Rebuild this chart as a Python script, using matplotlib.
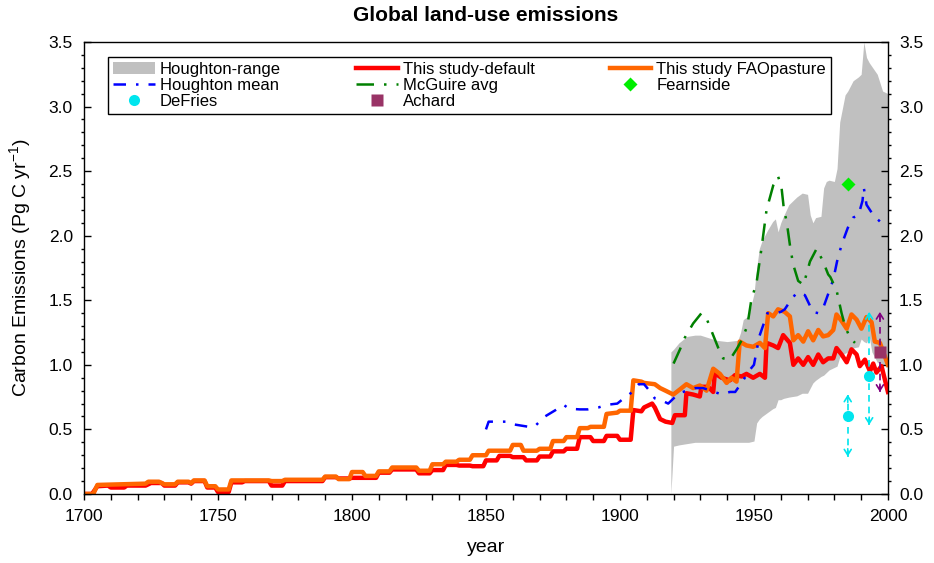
import matplotlib.pyplot as plt
from matplotlib.ticker import MultipleLocator, FormatStrFormatter

plt.rcParams['font.family'] = ['Liberation Sans', 'DejaVu Sans']
plt.rcParams['mathtext.default'] = 'regular'

# this study - default run (Pg C / yr)
default_years = [1700, 1703, 1705, 1709, 1710, 1715, 1716, 1723, 1725, 1729, 1730, 1734,
                 1735, 1739, 1740, 1741, 1745, 1746, 1749, 1750, 1754, 1755, 1759, 1760,
                 1769, 1770, 1774, 1775, 1789, 1790, 1794, 1795, 1799, 1800, 1809, 1810,
                 1814, 1815, 1824, 1825, 1829, 1830, 1834, 1835, 1839, 1840, 1844, 1845,
                 1849, 1850, 1854, 1855, 1859, 1860, 1864, 1865, 1869, 1870, 1874, 1875,
                 1879, 1880, 1884, 1885, 1889, 1890, 1894, 1895, 1899, 1900, 1904, 1905,
                 1908, 1909, 1912, 1913, 1915, 1917, 1919.5, 1920.5, 1924.2, 1924.8, 1927.3,
                 1929.8, 1930.4, 1932.9, 1934.8, 1935.4, 1937.9, 1941, 1942.9, 1945.4,
                 1947.2, 1949.7, 1952.2, 1954.1, 1954.7, 1957.2, 1959, 1960.9, 1963.4,
                 1964.7, 1966.5, 1968.4, 1970.2, 1972.1, 1974, 1975.8, 1977.7, 1979.6,
                 1980.8, 1982.7, 1984.6, 1986.4, 1988.3, 1989.5, 1991.4, 1993.3, 1994.5,
                 1995.7, 1997.6, 2000]
default_emis = [0.0, 0.0, 0.06, 0.065, 0.05, 0.05, 0.065, 0.065, 0.085, 0.085, 0.065, 0.065,
                0.09, 0.09, 0.08, 0.10, 0.10, 0.05, 0.05, 0.015, 0.015, 0.09, 0.09, 0.10,
                0.10, 0.065, 0.065, 0.10, 0.10, 0.13, 0.13, 0.12, 0.12, 0.125, 0.125, 0.165,
                0.165, 0.19, 0.19, 0.16, 0.16, 0.185, 0.185, 0.225, 0.225, 0.22, 0.22, 0.215,
                0.215, 0.26, 0.26, 0.295, 0.295, 0.285, 0.285, 0.26, 0.26, 0.29, 0.29, 0.33,
                0.33, 0.35, 0.35, 0.44, 0.44, 0.41, 0.41, 0.45, 0.45, 0.42, 0.42, 0.65,
                0.64, 0.67, 0.70, 0.67, 0.58, 0.56, 0.55, 0.61, 0.61, 0.78, 0.77,
                0.755, 0.83, 0.83, 0.79, 0.935, 0.90, 0.88, 0.92, 0.91,
                0.93, 0.90, 0.93, 0.90, 1.17, 1.15, 1.13, 1.23, 1.17,
                1.00, 1.05, 1.00, 1.06, 1.00, 1.08, 1.02, 1.05, 1.05,
                1.13, 1.08, 1.02, 1.12, 1.08, 0.99, 1.04, 0.95, 1.01,
                0.94, 0.99, 0.79]

# this study - FAO pasture run
fao_years = [1700, 1703.5, 1705, 1723, 1724, 1728, 1730, 1734, 1735, 1739, 1740, 1741,
             1745, 1746, 1749, 1750, 1754, 1755, 1769, 1770, 1774, 1775, 1789, 1790,
             1794, 1795, 1799, 1800, 1804, 1805, 1809, 1810, 1814, 1815, 1824, 1825,
             1829, 1830, 1834, 1835, 1839, 1840, 1844, 1845, 1850, 1851, 1859, 1860,
             1863, 1864, 1869, 1870, 1874, 1875, 1879, 1880, 1884, 1885, 1888, 1889,
             1894, 1895, 1899, 1900, 1904, 1905, 1908, 1909, 1913, 1915, 1917, 1919.9,
             1922.4, 1924.8, 1927.3, 1929.8, 1932.3, 1934.8, 1937.3, 1939.8, 1941.6,
             1943.5, 1944.7, 1947.2, 1949.7, 1952.2, 1954.1, 1955.3, 1957.2, 1959,
             1961.5, 1963.4, 1964.7, 1966.5, 1968.4, 1970.2, 1972.1, 1974, 1975.8,
             1977.7, 1979.6, 1980.8, 1982.7, 1984.6, 1986.4, 1988.3, 1990.1, 1992,
             1993.9, 1995.1, 1997, 2000]
fao_emis = [0.0, 0.0, 0.07, 0.08, 0.095, 0.095, 0.075, 0.075, 0.095, 0.095, 0.085, 0.105,
            0.105, 0.06, 0.06, 0.035, 0.035, 0.105, 0.105, 0.10, 0.10, 0.11, 0.11, 0.135,
            0.135, 0.115, 0.115, 0.17, 0.17, 0.14, 0.14, 0.175, 0.175, 0.205, 0.205, 0.18,
            0.18, 0.23, 0.23, 0.25, 0.25, 0.265, 0.265, 0.30, 0.30, 0.335, 0.335, 0.38,
            0.38, 0.335, 0.335, 0.35, 0.35, 0.41, 0.41, 0.44, 0.44, 0.51, 0.51, 0.52,
            0.52, 0.62, 0.63, 0.645, 0.645, 0.88, 0.87, 0.86, 0.85, 0.82, 0.80, 0.77,
            0.81, 0.85, 0.82, 0.84, 0.80, 0.97, 0.93, 0.86, 0.90,
            0.87, 1.18, 1.15, 1.14, 1.17, 1.13, 1.40, 1.375, 1.43,
            1.41, 1.375, 1.19, 1.23, 1.18, 1.26, 1.19, 1.27, 1.22,
            1.23, 1.27, 1.39, 1.34, 1.28, 1.39, 1.35, 1.28, 1.37,
            1.33, 1.18, 1.17, 1.00]

# Houghton range (min / max)
range_years = [1919, 1920, 1922, 1925, 1928, 1930, 1933, 1936, 1940, 1944, 1945, 1946,
               1948, 1950, 1951, 1952, 1953, 1955, 1957, 1958, 1959, 1960, 1961, 1963,
               1966, 1968, 1970, 1971, 1972, 1973, 1975, 1976, 1977, 1978, 1980, 1981,
               1982, 1984, 1985, 1987, 1989, 1990, 1991, 1992, 1993, 1994, 1996, 1998, 2000]
range_low = [0.0, 0.37, 0.38, 0.39, 0.40, 0.40, 0.40, 0.40, 0.40, 0.40, 0.40, 0.40,
             0.40, 0.41, 0.55, 0.58, 0.60, 0.63, 0.66, 0.67, 0.73, 0.73, 0.74, 0.75,
             0.76, 0.78, 0.78, 0.82, 0.86, 0.88, 0.91, 0.92, 0.94, 0.96, 0.98, 0.99,
             1.06, 1.09, 1.10, 1.13, 1.14, 1.20, 1.18, 1.17, 1.22, 1.10, 1.02, 1.00, 1.00]
range_high = [1.10, 1.12, 1.17, 1.22, 1.23, 1.23, 1.21, 1.19, 1.18, 1.19, 1.25, 1.35,
              1.38, 1.55, 1.75, 1.90, 1.96, 2.04, 2.11, 2.13, 2.03, 2.10, 2.15, 2.24,
              2.30, 2.33, 2.32, 2.16, 2.10, 2.14, 2.15, 2.37, 2.42, 2.43, 2.42, 2.52,
              2.88, 3.09, 3.12, 3.20, 3.23, 3.25, 3.50, 3.38, 3.34, 3.31, 3.25, 3.12, 3.10]

# Houghton mean
hmean_years = [1850, 1851, 1854, 1858, 1860, 1863, 1866, 1868, 1870, 1872, 1876, 1879,
               1881, 1885, 1888, 1892, 1895, 1899, 1902, 1904, 1907, 1909, 1911, 1913,
               1916, 1918, 1920, 1922, 1925, 1928, 1931, 1934, 1938, 1941, 1943, 1946,
               1948, 1950, 1952, 1955, 1958, 1960, 1961.5, 1963.4, 1966, 1969, 1972, 1974,
               1976, 1979.6, 1981, 1982.7, 1985, 1987, 1989, 1990.5, 1991, 1992, 1994.5,
               1997, 2000]
hmean_emis = [0.50, 0.56, 0.56, 0.56, 0.54, 0.53, 0.52, 0.52, 0.56, 0.60, 0.65, 0.69,
              0.66, 0.655, 0.655, 0.67, 0.69, 0.70, 0.75, 0.78, 0.85, 0.85, 0.80, 0.74,
              0.72, 0.70, 0.74, 0.78, 0.80, 0.82, 0.82, 0.80, 0.77, 0.79, 0.79, 0.88,
              0.95, 1.00, 1.22, 1.40, 1.40, 1.41, 1.43, 1.49, 1.56, 1.54, 1.41, 1.40,
              1.45, 1.66, 1.80, 1.93, 2.06, 2.14, 2.16, 2.27, 2.37, 2.24, 2.16,
              2.11, 2.07]

# McGuire average
mcg_years = [1920, 1922.4, 1924.2, 1927.3, 1930.4, 1932.3, 1934.2, 1936.7, 1938.5, 1941,
             1943.5, 1945.4, 1947.5, 1949, 1951, 1952.8, 1954.7, 1957.2, 1959, 1960.3,
             1961.2, 1962.2, 1963.4, 1964.6, 1966.5, 1968.5, 1970.9, 1973.4, 1975.8,
             1977.7, 1978.5, 1980.8, 1982.7, 1984, 1985.8, 1987.7]
mcg_emis = [1.01, 1.12, 1.21, 1.32, 1.40, 1.36, 1.26, 1.13, 1.05, 1.04,
            1.12, 1.19, 1.30, 1.50, 1.64, 1.90, 2.20, 2.39, 2.46, 2.37,
            2.20, 2.11, 1.93, 1.78, 1.65, 1.62, 1.80, 1.90, 1.80,
            1.70, 1.68, 1.58, 1.40, 1.30, 1.21, 1.17]

# single estimates with their ranges
fearnside_year = [1985]
fearnside_val = [2.4]
defries_year = [1985, 1993]
defries_val = [0.6, 0.91]
defries_lo = [0.29, 0.535]
defries_hi = [0.77, 1.41]
achard_year = [1997]
achard_val = [1.1]
achard_lo = [0.79]
achard_hi = [1.41]

fig = plt.figure(figsize=(9.34, 5.63), dpi=100)
ax = fig.add_axes([0.0899, 0.1226, 0.8608, 0.8028])

rng = ax.fill_between(range_years, range_low, range_high, color='#c0c0c0', lw=0,
                      label='Houghton-range')
l_def, = ax.plot(default_years, default_emis, color='#ff0000', lw=3.2,
                 label='This study-default')
l_fao, = ax.plot(fao_years, fao_emis, color='#ff6600', lw=3.2,
                 label='This study FAOpasture')
l_hm, = ax.plot(hmean_years, hmean_emis, color='#0000ff', lw=1.8,
                dashes=(5, 4, 1, 4), label='Houghton mean')
l_mcg, = ax.plot(mcg_years, mcg_emis, color='#008000', lw=1.8,
                 dashes=(7, 4, 1, 4), label='McGuire avg')


def err_arrows(x, lo, hi, color):
    # dashed bar with open arrow heads at both ends
    ax.plot([x, x], [lo, hi], color=color, lw=1.2, dashes=(4, 3))
    for tip, tail in ((hi, hi - 0.06), (lo, lo + 0.06)):
        ax.annotate('', xy=(x, tip), xytext=(x, tail),
                    arrowprops=dict(arrowstyle='->,head_length=0.4,head_width=0.25',
                                    color=color, lw=1.2, shrinkA=0, shrinkB=0))


for x, lo, hi in zip(defries_year, defries_lo, defries_hi):
    err_arrows(x, lo, hi, '#00e5ee')
for x, lo, hi in zip(achard_year, achard_lo, achard_hi):
    err_arrows(x, lo, hi, '#800080')

l_fea, = ax.plot(fearnside_year, fearnside_val, 'D', color='#00ee00', ms=7,
                 mec='none', label='Fearnside')
l_def2, = ax.plot(defries_year, defries_val, 'o', color='#00e5ee', ms=8,
                  mec='none', label='DeFries')
l_ach, = ax.plot(achard_year, achard_val, 's', color='#993366', ms=8,
                 mec='none', label='Achard')

ax.set_xlim(1700, 2000)
ax.set_ylim(0, 3.5)
ax.xaxis.set_major_locator(MultipleLocator(50))
ax.xaxis.set_minor_locator(MultipleLocator(10))
ax.yaxis.set_major_locator(MultipleLocator(0.5))
ax.yaxis.set_minor_locator(MultipleLocator(0.1))
ax.yaxis.set_major_formatter(FormatStrFormatter('%.1f'))
ax.tick_params(axis='x', which='both', direction='out', length=4, width=1,
               labelsize=12.5, top=False, pad=7)
ax.tick_params(axis='y', which='major', direction='in', length=5, width=1,
               labelsize=12.5, left=True, right=True, labelleft=True, labelright=True,
               pad=8)
ax.tick_params(axis='y', which='minor', direction='out', length=2, width=1,
               left=True, right=True)
for sp in ax.spines.values():
    sp.set_linewidth(1)

ax.set_title('Global land-use emissions', fontsize=15, fontweight='bold', pad=15)
ax.set_xlabel('year', fontsize=14)
ax.set_ylabel('Carbon Emissions (Pg C yr$^{-1}$)', fontsize=14)
ax.xaxis.set_label_coords(0.5, -0.1)
ax.yaxis.set_label_coords(-0.064, 0.5)

handles = [rng, l_hm, l_def2, l_def, l_mcg, l_ach, l_fao, l_fea]
leg = ax.legend(handles=handles, ncol=3, loc='upper left',
                bbox_to_anchor=(0.03, 0.838, 0.899, 0.129), mode='expand',
                fontsize=12, frameon=True, fancybox=False, framealpha=1,
                edgecolor='black', borderpad=0.3, labelspacing=0.05,
                handlelength=2.5, handletextpad=0.3, numpoints=1, borderaxespad=0)
leg.get_frame().set_linewidth(1)

fig.savefig('out.png', dpi=100)
